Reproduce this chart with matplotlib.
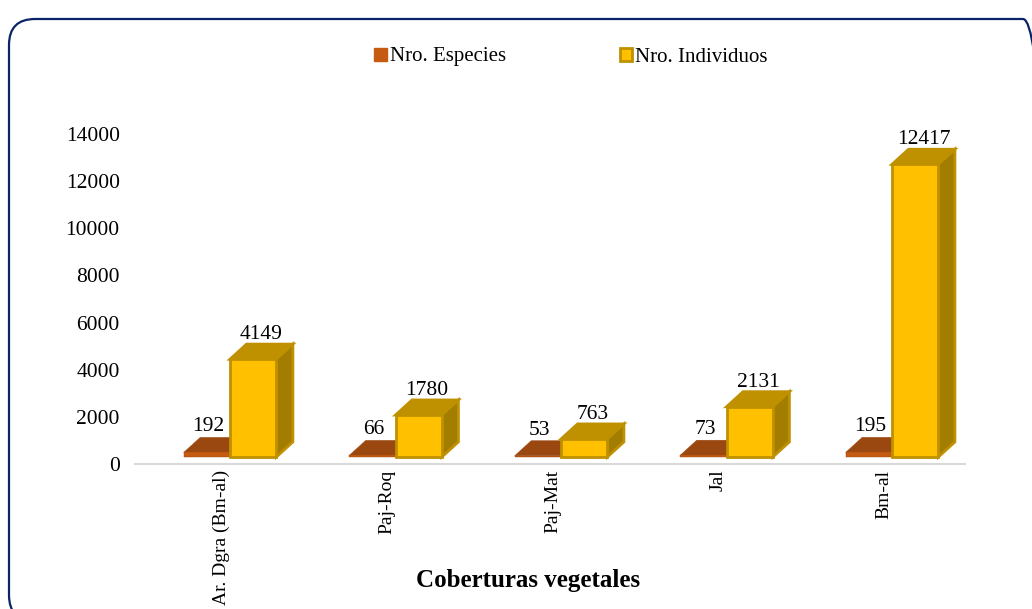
import matplotlib
matplotlib.use("Agg")
import matplotlib.pyplot as plt
import matplotlib.transforms as mtransforms
from matplotlib.patches import Polygon, Patch, FancyBboxPatch

# ---- data ----
categorias = ["Ar. Dgra (Bm-al)", "Paj-Roq", "Paj-Mat", "Jal", "Bm-al"]
especies = [192, 66, 53, 73, 195]
individuos = [4149, 1780, 763, 2131, 12417]
yticks = [0, 2000, 4000, 6000, 8000, 10000, 12000, 14000]

# ---- styles ----
NARANJA = "#C55A11"
NARANJA_TOP = "#9A4710"
AMARILLO = "#FFC000"
ORO = "#BF9000"
ORO_SIDE = "#A37D00"
W = 0.28            # ancho de cada barra (unidades de categoría)
DX, DY = 0.10, 640  # profundidad 3D en unidades de datos
FONT = "Liberation Serif"

plt.rcParams["font.family"] = FONT

fig = plt.figure(figsize=(10.32, 6.09), dpi=100)
W_PX, H_PX = 1032, 609
ax = fig.add_axes([135 / W_PX, 1 - 464 / H_PX, (965 - 135) / W_PX, 330 / H_PX])
ax.set_xlim(-0.574, 4.441)
ax.set_ylim(0, 14000)

# desplazamiento del "suelo" 3D (7 px hacia arriba)
lift = mtransforms.ScaledTranslation(0, 7 / 100, fig.dpi_scale_trans)
tr = ax.transData + lift


def caja(x0, w, h, front, top, side, edge, lw, z):
    # cara frontal
    ax.bar(x0 + w / 2, h, width=w, color=front, edgecolor=edge, linewidth=lw,
           transform=tr, zorder=z + 0.2, clip_on=False)
    # cara superior
    ax.add_patch(Polygon([[x0, h], [x0 + w, h], [x0 + w + DX, h + DY], [x0 + DX, h + DY]],
                         closed=True, facecolor=top, edgecolor=edge, lw=lw,
                         transform=tr, zorder=z, clip_on=False))
    # cara lateral
    ax.add_patch(Polygon([[x0 + w, 0], [x0 + w + DX, DY], [x0 + w + DX, h + DY], [x0 + w, h]],
                         closed=True, facecolor=side, edgecolor=edge, lw=lw,
                         transform=tr, zorder=z, clip_on=False))


for i, (e, n) in enumerate(zip(especies, individuos)):
    caja(i - W, W, e, NARANJA, NARANJA_TOP, NARANJA_TOP, NARANJA_TOP, 0.3, 2 + i)
    caja(i, W, n, AMARILLO, ORO, ORO_SIDE, ORO, 2.0, 3 + i)
    ax.text(i - W / 2 + 0.01, e + DY, str(e), ha="center", va="bottom", fontsize=15.5,
            transform=tr + mtransforms.ScaledTranslation(0, 1 / 100, fig.dpi_scale_trans),
            zorder=20)
    ax.text(i + W / 2 + DX / 2, n + DY, str(n), ha="center", va="bottom", fontsize=15.5,
            transform=tr, zorder=20)

# ejes
for s in ["left", "right", "top"]:
    ax.spines[s].set_visible(False)
ax.spines["bottom"].set_color("#D9D9D9")
ax.spines["bottom"].set_linewidth(1.5)
ax.set_yticks(yticks)
ax.set_yticklabels([str(v) for v in yticks], fontsize=15.5)
ax.tick_params(axis="y", length=0, pad=11)
ax.set_xticks([i - 0.05 for i in range(len(categorias))])
ax.set_xticklabels(categorias, rotation=90, fontsize=14, va="top", ha="center")
ax.tick_params(axis="x", length=0, pad=4)

fig.text(528 / W_PX, 1 - 580 / H_PX, "Coberturas vegetales", ha="center", va="center",
         fontsize=18, fontweight="bold")

handles = [Patch(facecolor=NARANJA, edgecolor=NARANJA, label="Nro. Especies"),
           Patch(facecolor=AMARILLO, edgecolor=ORO, linewidth=2, label="Nro. Individuos")]
fig.legend(handles=handles, loc="center", bbox_to_anchor=(571 / W_PX, 1 - 57 / H_PX),
           ncol=2, frameon=False, fontsize=15, handlelength=0.6, handleheight=0.6,
           handletextpad=0.15, columnspacing=5.45)

# marco redondeado
marco = FancyBboxPatch((9, -12), 1040, 610 - 10 + 2, boxstyle="round,pad=0,rounding_size=26",
                       facecolor="none", edgecolor="#0B2468", linewidth=1.6,
                       transform=mtransforms.IdentityTransform())
fig.patches.append(marco)

fig.savefig("out.png", dpi=100)
